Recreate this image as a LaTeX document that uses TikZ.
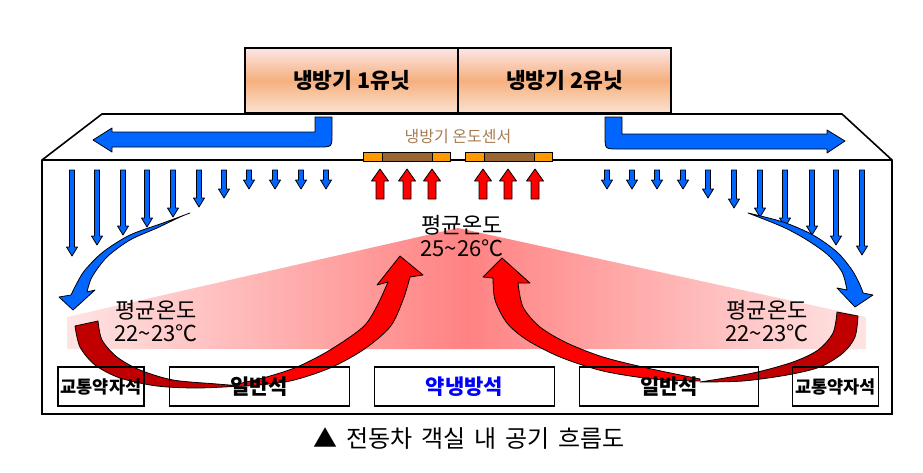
\documentclass[tikz,border=0pt]{standalone}
\usepackage{fontspec}
\setmainfont{Noto Sans CJK KR}
\usetikzlibrary{positioning}
\definecolor{ink}{HTML}{000000}
\definecolor{coolblue}{HTML}{0066FF}
\definecolor{hotred}{HTML}{FF0000}
\definecolor{deepred}{HTML}{C00000}
\definecolor{sensorbrown}{HTML}{996633}
\definecolor{sensororange}{HTML}{FF9900}
\definecolor{labelbrown}{HTML}{A67C52}
\definecolor{unittop}{HTML}{FCE6E6}
\definecolor{unitmid}{HTML}{F6B07E}
\definecolor{unitbot}{HTML}{FBE2CF}
\definecolor{warmedge}{HTML}{FFE4E4}
\definecolor{warmcore}{HTML}{FF8282}
\definecolor{seatblue}{HTML}{0000FF}
\newcommand{\widespace}{\spaceskip=9pt\relax}
\tikzset{
  unit/.style={draw=ink, line width=1.3pt, minimum width=213pt, minimum height=65pt, top color=unittop, bottom color=unitbot, middle color=unitmid, font=\bfseries\fontsize{21.5}{21.5}\selectfont},
  seat/.style={draw=ink, line width=1.2pt, minimum height=39pt, inner sep=0pt, font=\bfseries\fontsize{21}{21}\selectfont},
  flow/.style={fill=#1, draw=ink, line width=0.8pt, line join=round},
  temp/.style={align=center, font=\fontsize{22}{23.5}\selectfont}
}

\begin{document}
\begin{tikzpicture}[x=1pt, y=-1pt, text=ink]
  \useasboundingbox (0,0) rectangle (923,472);

  % warm zone
  \shade[left color=warmedge, right color=warmedge, middle color=warmcore] (67,317) -- (458,228) -- (866,317) -- (866,349) -- (67,349) -- cycle;

  % car body
  \draw[line width=1.6pt, line join=miter] (42,414) -- (42,160) -- (102,114) -- (842,114) -- (892,160) -- (892,414) -- cycle;
  \draw[line width=1.2pt] (42,160) -- (892,160);

  \node[unit] (unitA) at (351.5,80.5) {냉방기 1유닛};
  \node[unit] (unitB) at (564.5,80.5) {냉방기 2유닛};

  % ducts
  \filldraw[flow=coolblue] (315,117) -- (332,117) -- (332,134) .. controls (332,147) .. (319,147) -- (112,147) -- (112,152) -- (93,140) -- (112,128) -- (112,132) -- (315,132) -- cycle;
  \filldraw[flow=coolblue] (605,117) -- (622,117) -- (622,134) -- (827,134) -- (827,130) -- (845,141) -- (827,153) -- (827,149) -- (618,149) .. controls (605,149) .. (605,136) -- cycle;

  % sensors
  \node[font=\fontsize{16}{16}\selectfont, text=labelbrown] (sensorlbl) at (458,137) {냉방기 온도센서};
  \foreach \sx in {363,465} {
    \filldraw[draw=ink, fill=sensororange, line width=0.9pt] (\sx,152) rectangle (\sx+87,161);
    \filldraw[draw=ink, fill=sensorbrown, line width=0.9pt] (\sx+19,152) rectangle (\sx+69,161);
  }

  % cold air down
  \foreach \x/\y in {72/256, 97/245, 123/235, 147/227, 173/217, 199/207, 224/198, 249/189, 275/189, 301/189, 326/189,
                     607/189, 632/189, 657/189, 683/189, 708/198, 734/208, 760/217, 785/227, 812/235, 836/245, 862/255}
    \filldraw[flow=coolblue] (\x-2.5,170) -- (\x+2.5,170) -- (\x+2.5,\y-9) -- (\x+5.5,\y-9) -- (\x,\y) -- (\x-5.5,\y-9) -- (\x-2.5,\y-9) -- cycle;

  % cold air sweeping down the sides
  \filldraw[flow=coolblue] plot[smooth] coordinates {(190,213) (163,223) (130,235) (103,252) (85,270) (77,283) (71,295)}
    -- (59,297) -- (73,310) -- (95,290) -- (87,292)
    -- plot[smooth] coordinates {(87,292) (92,277) (107,257) (130,240) (157,228) (180,217) (190,213)} -- cycle;
  \filldraw[flow=coolblue] plot[smooth] coordinates {(748,213) (783,222) (813,235) (837,252) (852,270) (860,285) (863,293)}
    -- (873,295) -- (855,307) -- (837,288) -- (847,290)
    -- plot[smooth] coordinates {(847,290) (842,272) (828,255) (807,240) (783,227) (748,213)} -- cycle;

  % warm air up
  \foreach \x in {380,407,432,483,508,535}
    \filldraw[flow=hotred] (\x,169) -- (\x+8.5,181) -- (\x+4,181) -- (\x+4,199) -- (\x-4,199) -- (\x-4,181) -- (\x-8.5,181) -- cycle;

  % return loops
  \filldraw[flow=deepred] plot[smooth] coordinates {(98,321) (102,340) (117,357) (140,370) (173,380) (217,384) (242,386)}
    -- plot[smooth] coordinates {(242,386) (197,388) (157,386) (120,378) (95,365) (80,347) (75,326)} -- cycle;
  \filldraw[flow=hotred] plot[smooth] coordinates {(228,386) (263,378) (297,367) (330,350) (363,327) (377,306) (388,282)}
    -- (377,285) -- (400,256) -- (423,275) -- (410,277)
    -- plot[smooth] coordinates {(410,277) (403,300) (390,327) (363,350) (330,368) (290,381) (247,386) (228,386)} -- cycle;
  \filldraw[flow=deepred] plot[smooth] coordinates {(858,316) (855,337) (843,353) (820,367) (787,375) (743,381) (700,382)}
    -- plot[smooth] coordinates {(700,382) (753,373) (793,362) (818,350) (833,333) (837,312)} -- cycle;
  \filldraw[flow=hotred] plot[smooth] coordinates {(700,381) (653,379) (603,371) (560,357) (527,340) (507,323) (495,300) (493,278)}
    -- (483,277) -- (502,258) -- (530,283) -- (518,283)
    -- plot[smooth] coordinates {(518,283) (523,307) (540,327) (567,343) (603,357) (647,368) (700,379)} -- cycle;

  % temperatures
  \node[temp] (tempmid) at (462,236) {평균온도\\25\textasciitilde26℃};
  \node[temp] (templeft) at (156,321) {평균온도\\22\textasciitilde23℃};
  \node[temp] (tempright) at (767,321) {평균온도\\22\textasciitilde23℃};

  % seats
  \node[seat, minimum width=86pt, font=\bfseries\fontsize{17.5}{17.5}\selectfont] (seatA) at (101,386.5) {교통약자석};
  \node[seat, minimum width=180pt, right=24pt of seatA] (seatB) {일반석};
  \node[seat, minimum width=180pt, right=24pt of seatB, text=seatblue] (seatC) {약냉방석};
  \node[seat, minimum width=179pt, right=24pt of seatC] (seatD) {일반석};
  \node[seat, minimum width=86pt, font=\bfseries\fontsize{17.5}{17.5}\selectfont, right=33pt of seatD] (seatE) {교통약자석};

  \node[font=\fontsize{24}{24}\selectfont] (caption) at (469,439) {\widespace ▲ 전동차 객실 내 공기 흐름도};
\end{tikzpicture}
\end{document}
